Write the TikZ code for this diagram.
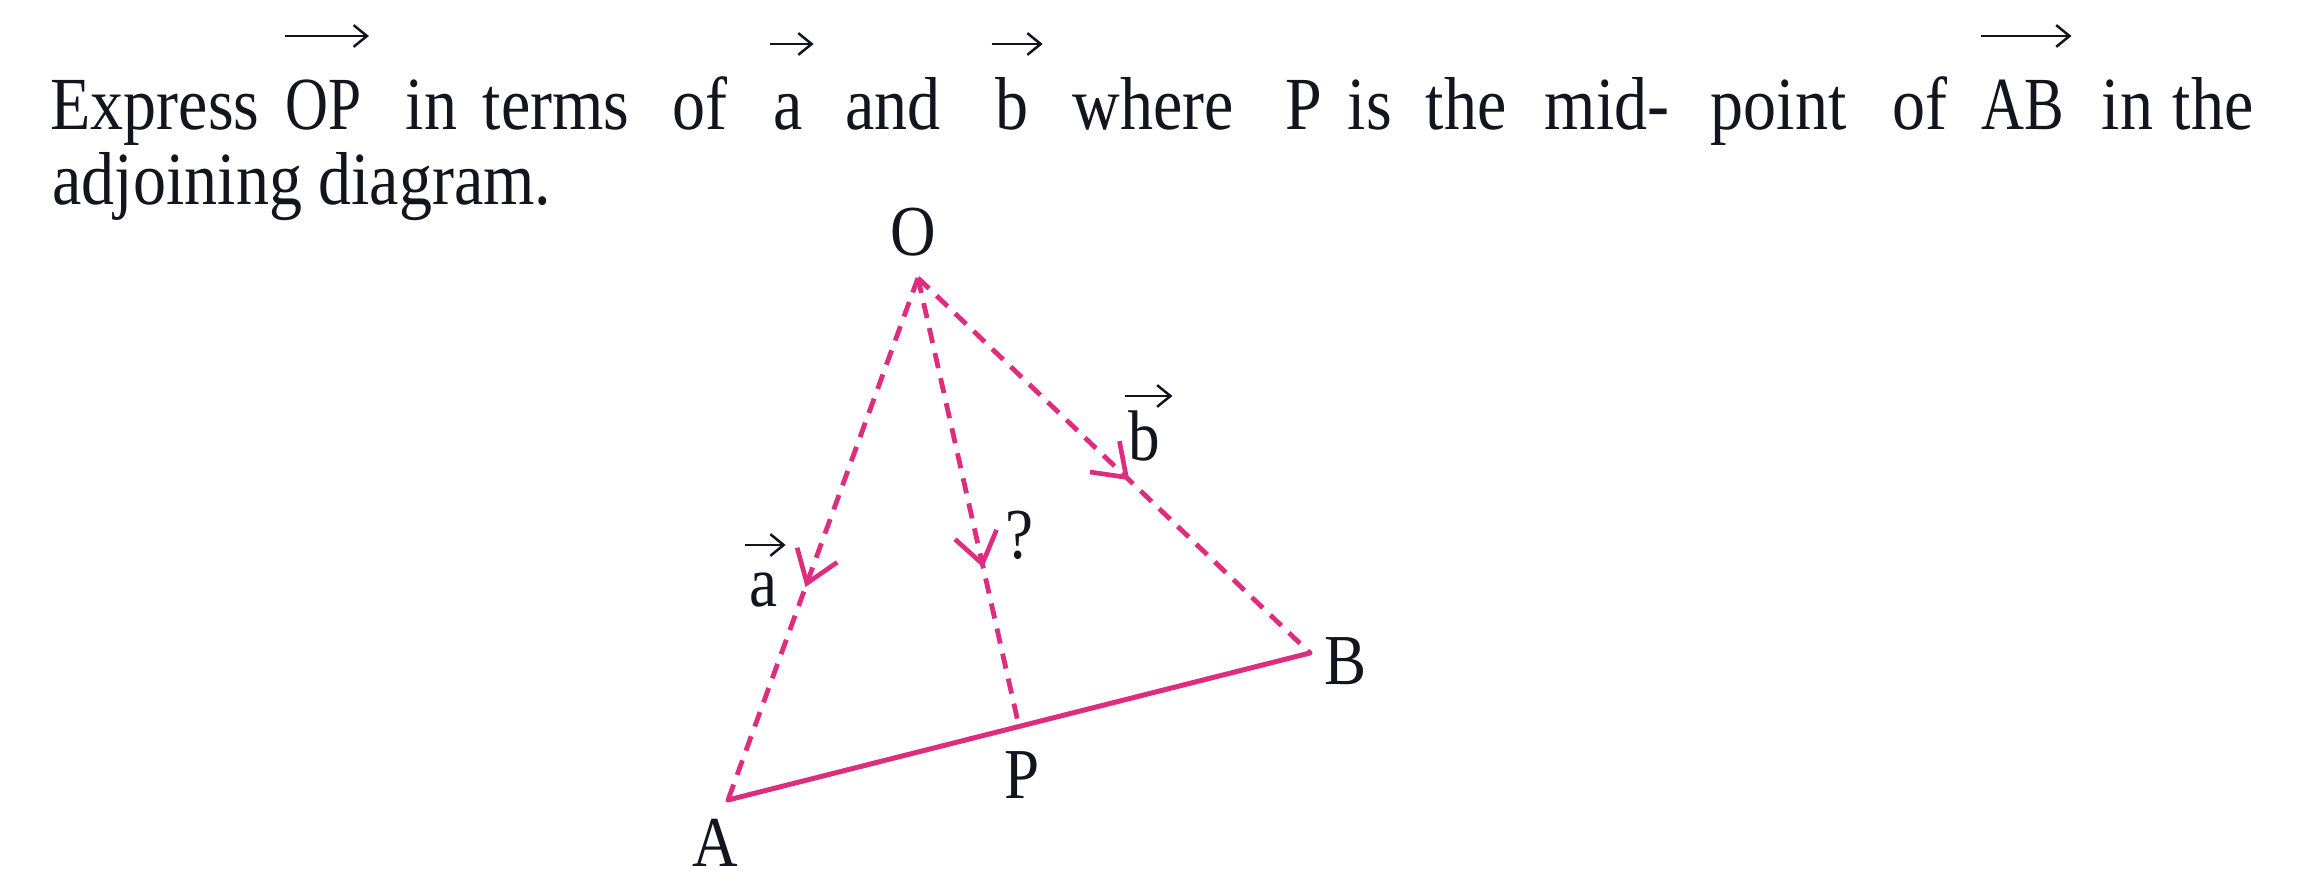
\documentclass[tikz,border=0pt]{standalone}
\usepackage{fontspec}
\setmainfont{Liberation Serif}[FakeStretch=0.88]
\usetikzlibrary{arrows.meta,decorations.markings,calc}
\definecolor{vecpink}{RGB}{221,45,126}
\definecolor{inkblack}{RGB}{20,20,30}
\begin{document}
\begin{tikzpicture}[x=0.3pt,y=-0.3pt,
  txt/.style={font=\fontsize{22.5}{26}\selectfont, text=inkblack, inner sep=0pt, anchor=base west},
  lbl/.style={font=\fontsize{21.5}{25}\selectfont, text=inkblack, inner sep=0pt},
  vecarrow/.style={draw=inkblack, line width=0.75pt, -{Straight Barb[length=4pt,width=6.5pt]}},
  dashline/.style={draw=vecpink, line width=1.45pt, dash pattern=on 4.6pt off 3.1pt},
  solidline/.style={draw=vecpink, line width=1.5pt, line cap=round},
  midarrow/.style={postaction={decorate}, decoration={markings, mark=at position #1 with {\arrow[vecpink, line width=1.4pt]{Straight Barb[length=9pt, width=12.8pt]}}}}
]
\fill[white] (0,0) rectangle (2312,884);
\path[use as bounding box] (0,0) rectangle (2312,884);

% question text, line 1
\node[txt] (t1) at (50,130) {Express};
\node[txt] (t2) at (285,130) {\scalebox{0.9}[1]{OP}};
\node[txt] (t3) at (405,130) {in};
\node[txt] (t4) at (482,130) {terms};
\node[txt] (t5) at (672,130) {of};
\node[txt] (t6) at (773,130) {a};
\node[txt] (t7) at (845,130) {and};
\node[txt] (t8) at (995,130) {b};
\node[txt] (t9) at (1072,130) {where};
\node[txt] (t10) at (1285,130) {P};
\node[txt] (t11) at (1347,130) {is};
\node[txt] (t12) at (1425,130) {the};
\node[txt] (t13) at (1544,130) {mid-};
\node[txt] (t14) at (1710,130) {point};
\node[txt] (t15) at (1892,130) {of};
\node[txt] (t16) at (1981,130) {\scalebox{0.9}[1]{AB}};
\node[txt] (t17) at (2101,130) {in};
\node[txt] (t18) at (2172,130) {the};
% line 2
\node[txt] (t19) at (52,205) {adjoining diagram.};

\coordinate (ybig) at (0,36);
\coordinate (ysmall) at (0,44);
\draw[vecarrow] (t2.west |- ybig) -- ([xshift=2pt]t2.east |- ybig);
\draw[vecarrow] ([xshift=-1pt]t6.west |- ysmall) -- ([xshift=3pt]t6.east |- ysmall);
\draw[vecarrow] ([xshift=-1pt]t8.west |- ysmall) -- ([xshift=4pt]t8.east |- ysmall);
\draw[vecarrow] (t16.west |- ybig) -- ([xshift=2pt]t16.east |- ybig);

% diagram
\coordinate (O) at (918,278);
\coordinate (A) at (728,800);
\coordinate (B) at (1310,653);
\coordinate (P) at ($(A)!0.5!(B)$);

\draw[dashline, midarrow=0.592] (O) -- (A);
\draw[dashline, midarrow=0.646] (O) -- (P);
\draw[dashline, midarrow=0.539] (O) -- (B);
\draw[solidline] (A) -- (B);

\node[lbl] (lO) at (913,232) {O};
\node[lbl] (lA) at (715,843) {A};
\node[lbl] (lB) at (1346,661) {B};
\node[lbl] (lP) at (1022,775) {P};
\node[lbl] (la) at (763,590) {a};
\node[lbl] (lq) at (1019,535) {?};
\node[lbl] (lb) at (1144,436) {b};
\draw[vecarrow] ($(la.west)+(-3,-45)$) -- ($(la.east)+(8,-45)$);
\draw[vecarrow] ($(lb.west)+(-3,-40)$) -- ($(lb.east)+(12,-40)$);
\end{tikzpicture}
\end{document}
